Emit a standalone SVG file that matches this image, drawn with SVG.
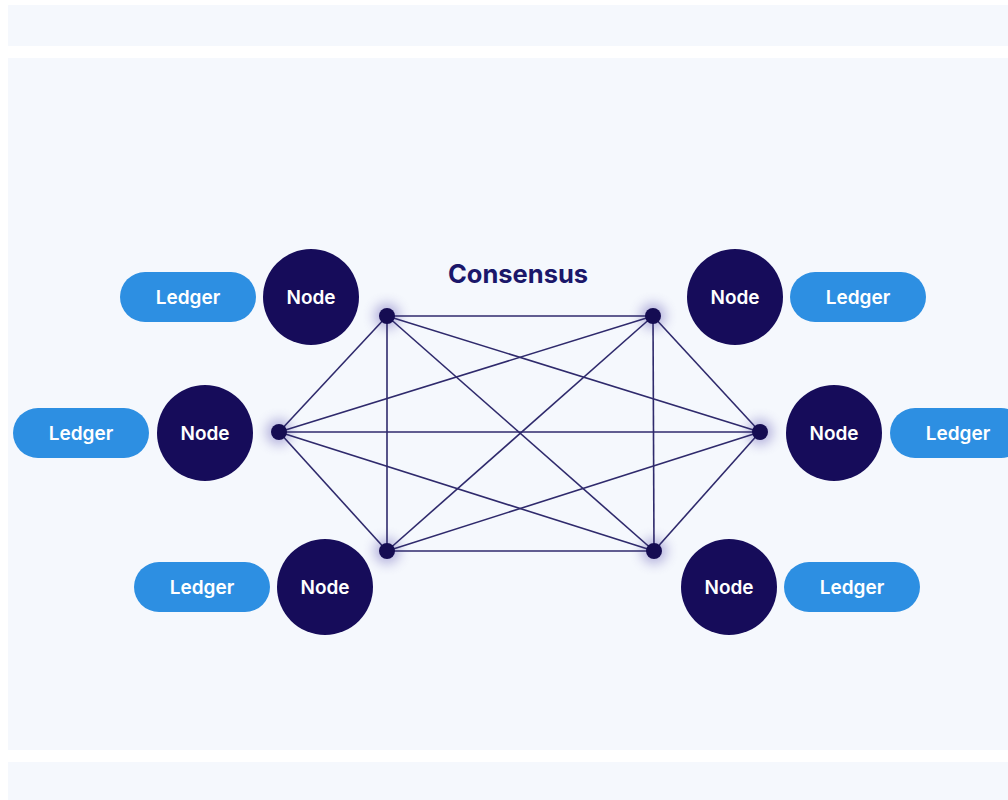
<svg xmlns="http://www.w3.org/2000/svg" width="1008" height="800" viewBox="0 0 1008 800">
<defs>
<style>
.band{fill:#f5f8fd}
.node circle{fill:#160c5a}
.node text{fill:#ffffff;font-family:Inter,"Liberation Sans",sans-serif;font-weight:600;font-size:19px;text-anchor:middle;dominant-baseline:central}
.ledger rect{fill:#2d8fe2}
.ledger text{fill:#ffffff;font-family:Inter,"Liberation Sans",sans-serif;font-weight:600;font-size:19px;text-anchor:middle;dominant-baseline:central}
.edges line{stroke:#2f2a6c;stroke-width:1.6}
.hub{fill:#150c52}
.glow{fill:#6b62b8;opacity:0.45;filter:url(#blur)}
.title{fill:#1b176a;font-family:Inter,"Liberation Sans",sans-serif;font-weight:700;font-size:25.5px;text-anchor:middle}
</style>
<filter id="blur" x="-100%" y="-100%" width="300%" height="300%"><feGaussianBlur stdDeviation="6"/></filter>
</defs>
<rect width="1008" height="800" fill="#ffffff"/>
<rect class="band" x="8" y="5" width="1000" height="41"/>
<rect class="band" x="8" y="58" width="1000" height="692"/>
<rect class="band" x="8" y="762" width="1000" height="38"/>
<text class="title" x="518" y="283">Consensus</text>
<g id="hub-glows">
<circle class="glow" cx="387" cy="316" r="13"/>
<circle class="glow" cx="653" cy="316" r="13"/>
<circle class="glow" cx="279" cy="432" r="13"/>
<circle class="glow" cx="760" cy="432" r="13"/>
<circle class="glow" cx="387" cy="551" r="13"/>
<circle class="glow" cx="654" cy="551" r="13"/>
</g>
<g id="connectors" class="edges">
<line x1="387" y1="316" x2="653" y2="316"/>
<line x1="387" y1="316" x2="279" y2="432"/>
<line x1="387" y1="316" x2="387" y2="551"/>
<line x1="387" y1="316" x2="760" y2="432"/>
<line x1="387" y1="316" x2="654" y2="551"/>
<line x1="653" y1="316" x2="279" y2="432"/>
<line x1="653" y1="316" x2="387" y2="551"/>
<line x1="653" y1="316" x2="760" y2="432"/>
<line x1="653" y1="316" x2="654" y2="551"/>
<line x1="279" y1="432" x2="760" y2="432"/>
<line x1="279" y1="432" x2="387" y2="551"/>
<line x1="279" y1="432" x2="654" y2="551"/>
<line x1="387" y1="551" x2="654" y2="551"/>
<line x1="387" y1="551" x2="760" y2="432"/>
<line x1="654" y1="551" x2="760" y2="432"/>
</g>
<g id="hubs">
<circle class="hub" cx="387" cy="316" r="8"/>
<circle class="hub" cx="653" cy="316" r="8"/>
<circle class="hub" cx="279" cy="432" r="8"/>
<circle class="hub" cx="760" cy="432" r="8"/>
<circle class="hub" cx="387" cy="551" r="8"/>
<circle class="hub" cx="654" cy="551" r="8"/>
</g>
<g id="node-tl" class="node"><circle cx="311" cy="297" r="48"/><text x="311" y="297">Node</text></g>
<g id="node-l" class="node"><circle cx="205" cy="433" r="48"/><text x="205" y="433">Node</text></g>
<g id="node-bl" class="node"><circle cx="325" cy="587" r="48"/><text x="325" y="587">Node</text></g>
<g id="node-tr" class="node"><circle cx="735" cy="297" r="48"/><text x="735" y="297">Node</text></g>
<g id="node-r" class="node"><circle cx="834" cy="433" r="48"/><text x="834" y="433">Node</text></g>
<g id="node-br" class="node"><circle cx="729" cy="587" r="48"/><text x="729" y="587">Node</text></g>
<g id="ledger-tl" class="ledger"><rect x="120" y="272" width="136" height="50" rx="25"/><text x="188" y="297">Ledger</text></g>
<g id="ledger-l" class="ledger"><rect x="13" y="408" width="136" height="50" rx="25"/><text x="81" y="433">Ledger</text></g>
<g id="ledger-bl" class="ledger"><rect x="134" y="562" width="136" height="50" rx="25"/><text x="202" y="587">Ledger</text></g>
<g id="ledger-tr" class="ledger"><rect x="790" y="272" width="136" height="50" rx="25"/><text x="858" y="297">Ledger</text></g>
<g id="ledger-r" class="ledger"><rect x="890" y="408" width="136" height="50" rx="25"/><text x="958" y="433">Ledger</text></g>
<g id="ledger-br" class="ledger"><rect x="784" y="562" width="136" height="50" rx="25"/><text x="852" y="587">Ledger</text></g>
</svg>
